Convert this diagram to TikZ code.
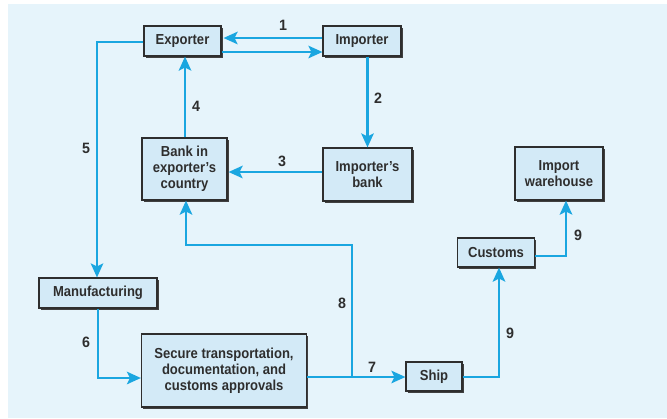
\documentclass[tikz,border=0pt]{standalone}
\usepackage{fontspec}
\setmainfont{Liberation Sans}
\newfontfamily\boxfont{Liberation Sans Bold}[FakeStretch=0.9]
\newfontfamily\numfont{Liberation Sans Bold}[FakeStretch=0.95]
\usetikzlibrary{arrows.meta,shadows}
\definecolor{panel}{HTML}{E6F4FB}
\definecolor{boxfill}{HTML}{D3EAF7}
\definecolor{flow}{HTML}{1AA6E0}
\definecolor{ink}{HTML}{2E2E2E}
\tikzset{
  stage/.style={draw=ink, line width=1.2pt, fill=boxfill, text=ink,
    align=center, inner sep=0pt,
    font=\boxfont\fontsize{14.5}{16}\selectfont,
    drop shadow={shadow xshift=1.6pt, shadow yshift=-1.6pt, fill=black!75, opacity=1}},
  flowline/.style={draw=flow, line width=2.5pt,
    -{Stealth[length=14pt, width=12.5pt, inset=3pt]}},
  steplabel/.style={text=ink, font=\numfont\fontsize{15}{15}\selectfont, inner sep=0pt}
}
\begin{document}
\begin{tikzpicture}[x=1pt, y=-1pt]
  % background panel
  \useasboundingbox (0,0) rectangle (667,418);
  \fill[panel] (8,4) rectangle (667,418);

  % stages
  \node[stage, minimum width=77pt, minimum height=30pt] (exp) at (182.5,41) {Exporter};
  \node[stage, minimum width=78pt, minimum height=30pt] (imp) at (362,41) {Importer};
  \node[stage, minimum width=85pt, minimum height=62pt] (bankx) at (184.5,169) {Bank in\\exporter’s\\country};
  \node[stage, minimum width=89pt, minimum height=53pt] (bankm) at (367.5,174.5) {Importer’s\\bank};
  \node[stage, minimum width=88pt, minimum height=53pt] (whs) at (559,173.5) {Import\\warehouse};
  \node[stage, minimum width=77pt, minimum height=29pt] (cust) at (496,252.5) {Customs};
  \node[stage, minimum width=118pt, minimum height=30pt] (manu) at (98,293) {Manufacturing};
  \node[stage, minimum width=165pt, minimum height=73pt] (sec) at (224,370.5) {Secure transportation,\\documentation, and\\customs approvals};
  \node[stage, minimum width=56pt, minimum height=29pt] (ship) at (434,376.5) {Ship};

  % bends of the routed connectors
  \coordinate (c4) at (185,0);
  \coordinate (c5) at (97,42);
  \coordinate (c6) at (98,378);
  \coordinate (split) at (352,377);
  \coordinate (c8a) at (352,245);
  \coordinate (c8b) at (186,245);
  \coordinate (c9a) at (499,377);
  \coordinate (c9b) at (566,256);

  % connectors
  \draw[flowline, shorten >=2pt] (imp.west |- 0,38) -- (exp.east |- 0,38);
  \draw[flowline] (exp.east |- 0,52) -- (imp.west |- 0,52);
  \draw[flowline] (bankm.north |- imp.south) -- (bankm.north);
  \draw[flowline, shorten >=1pt] (bankm.west |- 0,172) -- (bankx.east |- 0,172);
  \draw[flowline] (bankx.north -| c4) -- (exp.south -| c4);
  \draw[flowline] (exp.west |- c5) -- (c5) -- (manu.north -| c5);
  \draw[flowline] (manu.south -| c6) -- (c6) -- (sec.west |- c6);
  \draw[flowline] (sec.east |- split) -- (ship.west |- split);
  \draw[flowline] (split) -- (c8a) -- (c8b) -- (bankx.south -| c8b);
  \draw[flowline] (ship.east |- c9a) -- (c9a) -- (cust.south -| c9a);
  \draw[flowline] (cust.east |- c9b) -- (c9b) -- (whs.south -| c9b);

  % step numbers
  \node[steplabel] (n1) at (283,25) {1};
  \node[steplabel] (n2) at (378,98) {2};
  \node[steplabel] (n3) at (282,161) {3};
  \node[steplabel] (n4) at (196,106) {4};
  \node[steplabel] (n5) at (86,148) {5};
  \node[steplabel] (n6) at (86,342) {6};
  \node[steplabel] (n7) at (372,367) {7};
  \node[steplabel] (n8) at (342,303) {8};
  \node[steplabel] (n9) at (510,333) {9};
  \node[steplabel] (n9b) at (578,235) {9};
\end{tikzpicture}
\end{document}
